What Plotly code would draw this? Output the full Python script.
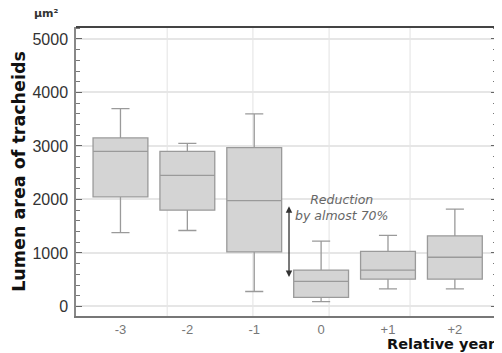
import plotly.graph_objects as go

# Data (lumen area, µm²)
categories = ["-3", "-2", "-1", "0", "+1", "+2"]
lower_whisker = [1380, 1420, 280, 90, 330, 330]
q1 = [2050, 1800, 1020, 170, 510, 510]
median = [2900, 2450, 1980, 470, 680, 920]
q3 = [3150, 2900, 2970, 680, 1030, 1320]
upper_whisker = [3700, 3050, 3600, 1220, 1330, 1820]

y_ticks = [0, 1000, 2000, 3000, 4000, 5000]
y_tick_labels = ["0", "1000", "2000", "3000", "4000", "5000"]

# annotation: reduction arrow between year -1 and year 0
arrow_x = 2.52
arrow_top = 1900
arrow_bottom = 550

fig = go.Figure()
fig.add_trace(go.Box(
    x=categories,
    q1=q1, median=median, q3=q3,
    lowerfence=lower_whisker, upperfence=upper_whisker,
    fillcolor="#d4d4d4",
    line=dict(color="#9a9a9a", width=1.3),
    whiskerwidth=0.33,
    width=0.82,
    boxpoints=False,
    showlegend=False,
))

# faint vertical grid lines (scan background)
for gx in [0.7, 1.98, 3.12, 4.33]:
    fig.add_shape(type="line", xref="x", yref="paper", x0=gx, x1=gx, y0=0, y1=1,
                  line=dict(color="#ececec", width=1.5), layer="below")

# top frame line
fig.add_shape(type="line", xref="paper", yref="paper", x0=0, x1=1, y0=1, y1=1,
              line=dict(color="#444444", width=2))

# double-headed arrow
fig.add_annotation(x=arrow_x, y=arrow_bottom, ax=arrow_x, ay=arrow_top,
                   xref="x", yref="y", axref="x", ayref="y",
                   showarrow=True, arrowhead=2, startarrowhead=2, arrowside="end+start",
                   arrowsize=1, arrowwidth=1.3, arrowcolor="#333333", text="")
fig.add_annotation(x=3.3, y=1850, xref="x", yref="y", showarrow=False,
                   text="<i>Reduction<br>by almost 70%</i>", align="center",
                   font=dict(family="DejaVu Sans", size=12.5, color="#666666"))

# unit label
fig.add_annotation(x=-0.105, y=1.045, xref="paper", yref="paper", showarrow=False,
                   xanchor="left", yanchor="middle", text="<b>µm²</b>",
                   font=dict(family="DejaVu Sans", size=11, color="#333333"))

# axis titles as annotations
fig.add_annotation(x=-0.137, y=0.5, xref="paper", yref="paper", showarrow=False,
                   xanchor="center", yanchor="middle", textangle=-90,
                   text="<b>Lumen area of tracheids</b>",
                   font=dict(family="DejaVu Sans", size=17.5, color="#111111"))
fig.add_annotation(x=1.0, y=-0.1263, xref="paper", yref="paper", showarrow=False,
                   xanchor="right", yanchor="bottom", borderpad=0,
                   text="<b>Relative year</b>",
                   font=dict(family="DejaVu Sans", size=14.5, color="#111111"))

# page body has an 8px margin: shrink the figure and margins by that amount
fig.update_layout(
    width=494, height=345,
    margin=dict(l=68, r=5, t=19, b=37),
    paper_bgcolor="white", plot_bgcolor="white",
    font=dict(family="Liberation Sans", color="#333333"),
)
fig.update_xaxes(
    type="category", range=[-0.665, 5.63], automargin=False,
    showgrid=False, ticks="", showline=True, linecolor="#777777", linewidth=2,
    tickfont=dict(family="Liberation Sans", size=13, color="#777777"),
)
fig.update_yaxes(
    range=[-178, 5224], automargin=False,
    tickvals=y_ticks, ticktext=y_tick_labels,
    tickfont=dict(family="Liberation Sans", size=16, color="#333333"),
    ticklabelstandoff=3,
    ticks="inside", ticklen=6, tickcolor="#666666",
    minor=dict(dtick=200, ticks="inside", ticklen=4, tickcolor="#777777", showgrid=False),
    showline=True, linecolor="#888888", linewidth=1.5, mirror="allticks",
    showgrid=True, gridcolor="#e6e6e6", gridwidth=1.5, zeroline=False,
)

fig.write_html("out.html")
